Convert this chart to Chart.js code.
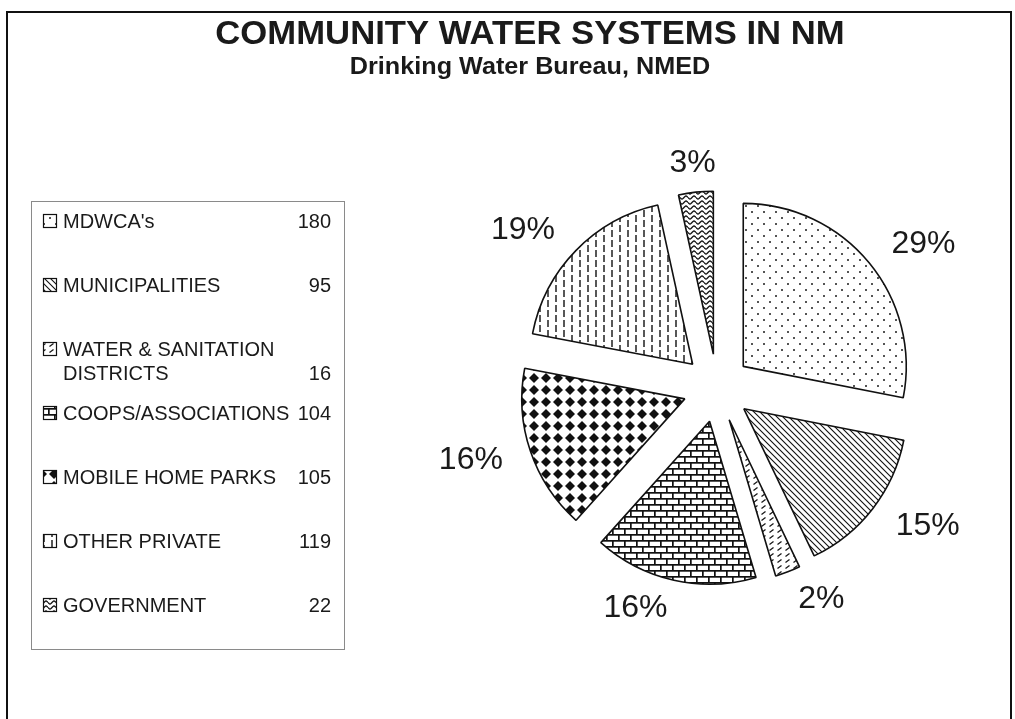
<!DOCTYPE html>
<html>
<head>
<meta charset="utf-8">
<script src="https://cdn.jsdelivr.net/npm/chart.js@4.4.1/dist/chart.umd.min.js"></script>
<style>
    html, body { margin: 0; padding: 0; background: #fff; }
    canvas { display: block; }
</style>
</head>
<body>
<canvas id="waterChart" width="1015" height="719"></canvas>
<script>
'use strict';

var categories = ["MDWCA's", 'MUNICIPALITIES', ['WATER & SANITATION', 'DISTRICTS'], 'COOPS/ASSOCIATIONS',
    'MOBILE HOME PARKS', 'OTHER PRIVATE', 'GOVERNMENT'];
var systemCounts = [180, 95, 16, 104, 105, 119, 22];
var percentLabels = ['29%', '15%', '2%', '16%', '16%', '19%', '3%'];
var chartTitle = 'COMMUNITY WATER SYSTEMS IN NM';
var chartSubtitle = 'Drinking Water Bureau, NMED';

var FONT = '"Liberation Sans", Arial, Helvetica, sans-serif';
var EXPLODE = 34;      // every slice pulled out by the same distance
var LABEL_DIST = 226;  // label anchor, from pie centre

var canvas = document.getElementById('waterChart');
var ctx = canvas.getContext('2d');

// build a repeating black & white fill from a small tile
function makePattern(w, h, draw) {
    var tile = document.createElement('canvas');
    tile.width = w;
    tile.height = h;
    var g = tile.getContext('2d');
    g.fillStyle = '#fff';
    g.fillRect(0, 0, w, h);
    g.fillStyle = '#111';
    g.strokeStyle = '#111';
    draw(g, w, h);
    return ctx.createPattern(tile, 'repeat');
}

var patterns = [
    // dots
    makePattern(12, 12, function (g) {
        g.fillStyle = '#555';
        g.fillRect(1, 1, 2, 2);
        g.fillRect(7, 7, 2, 2);
    }),
    // diagonal lines
    makePattern(6, 6, function (g, w) {
        g.lineWidth = 1.1;
        g.beginPath();
        g.moveTo(0, 0); g.lineTo(w, w);
        g.moveTo(-1, w - 1); g.lineTo(1, w + 1);
        g.moveTo(w - 1, -1); g.lineTo(w + 1, 1);
        g.stroke();
    }),
    // short slashes
    makePattern(8, 6, function (g) {
        g.lineWidth = 1.2;
        g.beginPath();
        g.moveTo(1.5, 4.5); g.lineTo(5.5, 1.5);
        g.stroke();
    }),
    // bricks
    makePattern(12, 12, function (g) {
        g.fillRect(0, 0, 12, 1.7);
        g.fillRect(0, 6, 12, 1.7);
        g.fillRect(0, 0, 1.7, 6);
        g.fillRect(6, 6, 1.7, 6);
    }),
    // black diamonds
    makePattern(12, 12, function (g) {
        g.beginPath();
        g.moveTo(6, 1); g.lineTo(11, 6); g.lineTo(6, 11); g.lineTo(1, 6);
        g.closePath();
        g.fill();
    }),
    // vertical dashes
    makePattern(16, 10, function (g) {
        g.lineWidth = 1.4;
        g.beginPath();
        g.moveTo(4, 0); g.lineTo(4, 7);
        g.moveTo(12, 5); g.lineTo(12, 12);
        g.moveTo(12, -5); g.lineTo(12, 2);
        g.stroke();
    }),
    // waves
    makePattern(8, 5, function (g) {
        g.lineWidth = 1.3;
        g.beginPath();
        for (var x = 0; x <= 8; x += 0.5) {
            var y = 2.5 + 1.5 * Math.sin(x / 8 * Math.PI * 2);
            if (x === 0) g.moveTo(x, y); else g.lineTo(x, y);
        }
        g.stroke();
    })
];

function stretchedText(c, text, cx, baseline, font, sx) {
    c.save();
    c.font = font;
    c.textAlign = 'center';
    c.textBaseline = 'alphabetic';
    c.translate(cx, baseline);
    c.scale(sx, 1);
    c.fillText(text, 0, 0);
    c.restore();
}

// pull every slice out along its bisector
var explodePlugin = {
    id: 'explode',
    afterDatasetsUpdate: function (chart) {
        chart.getDatasetMeta(0).data.forEach(function (arc) {
            var mid = (arc.startAngle + arc.endAngle) / 2;
            arc.x += Math.cos(mid) * EXPLODE;
            arc.y += Math.sin(mid) * EXPLODE;
        });
    }
};

// page frame, titles and the boxed legend
var pagePlugin = {
    id: 'page',
    beforeDraw: function (chart) {
        var c = chart.ctx;
        c.save();
        c.fillStyle = '#fff';
        c.fillRect(0, 0, chart.width, chart.height);
        c.strokeStyle = '#111';
        c.lineWidth = 2;
        c.strokeRect(7, 12, 1004, 760);

        c.fillStyle = '#1a1a1a';
        stretchedText(c, chartTitle, 530, 44, 'bold 34px ' + FONT, 1.02);
        stretchedText(c, chartSubtitle, 530, 74, 'bold 24px ' + FONT, 1.05);

        c.strokeStyle = '#8a8a8a';
        c.lineWidth = 1;
        c.strokeRect(31.5, 201.5, 313, 448);

        var data = chart.data.datasets[0].data;
        c.font = '20px ' + FONT;
        c.textBaseline = 'alphabetic';
        chart.data.labels.forEach(function (label, i) {
            var lines = Array.isArray(label) ? label : [label];
            var rowY = 221 + i * 64;
            c.fillStyle = patterns[i];
            c.fillRect(43, rowY - 7, 14, 14);
            c.strokeStyle = '#111';
            c.lineWidth = 1.2;
            c.strokeRect(43.5, rowY - 6.5, 13, 13);
            c.fillStyle = '#1a1a1a';
            c.textAlign = 'left';
            lines.forEach(function (line, k) {
                c.fillText(line, 63, rowY + 7 + k * 24);
            });
            c.textAlign = 'right';
            c.fillText(String(data[i]), 331, rowY + 7 + (lines.length - 1) * 24);
        });
        c.restore();
    }
};

// percent labels outside the slices, text hangs away from the pie
var percentPlugin = {
    id: 'percentLabels',
    afterDatasetsDraw: function (chart) {
        var c = chart.ctx;
        c.save();
        c.font = '32px ' + FONT;
        c.fillStyle = '#1a1a1a';
        c.textBaseline = 'middle';
        chart.getDatasetMeta(0).data.forEach(function (arc, i) {
            var mid = (arc.startAngle + arc.endAngle) / 2;
            var ux = Math.cos(mid), uy = Math.sin(mid);
            var d = LABEL_DIST - EXPLODE;
            c.textAlign = ux > 0.2 ? 'left' : (ux < -0.2 ? 'right' : 'center');
            c.fillText(percentLabels[i], arc.x + ux * d, arc.y + uy * d);
        });
        c.restore();
    }
};

var chart = new Chart(ctx, {
    type: 'pie',
    data: {
        labels: categories,
        datasets: [{
            data: systemCounts,
            backgroundColor: patterns,
            borderColor: '#111',
            borderWidth: 1.6,
            radius: 163
        }]
    },
    options: {
        responsive: false,
        animation: false,
        layout: {
            padding: { left: 419, right: 0, top: 57, bottom: 0 }
        },
        plugins: {
            legend: { display: false },
            tooltip: { enabled: false }
        }
    },
    plugins: [explodePlugin, pagePlugin, percentPlugin]
});
</script>
</body>
</html>
